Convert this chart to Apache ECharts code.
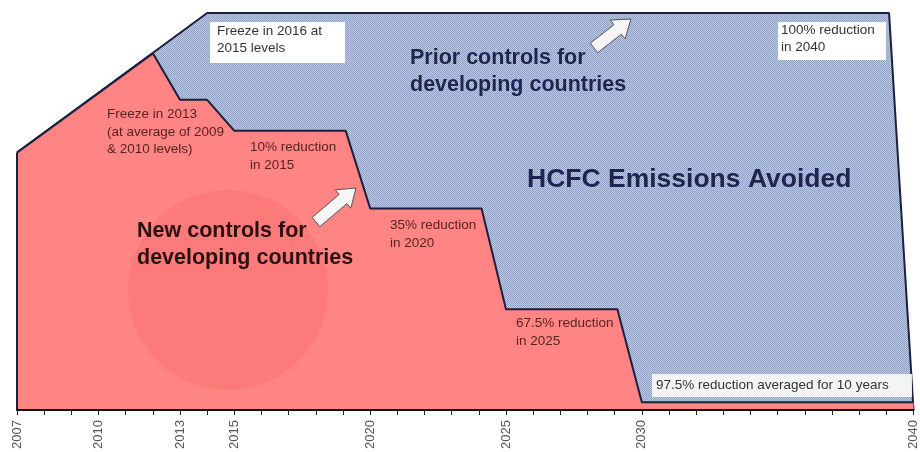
<!DOCTYPE html>
<html>
<head>
<meta charset="utf-8">
<script src="https://cdn.jsdelivr.net/npm/echarts@6/dist/echarts.min.js"></script>
<style>html,body{margin:0;padding:0;background:#fff}#c{width:920px;height:452px}</style>
</head>
<body>
<div id="c"></div>
<script>
// ---- data (emissions as % of the 2009/2010 baseline) ----
var labelYears = [2007, 2010, 2013, 2015, 2020, 2025, 2030, 2040];
var priorYears  = [2007, 2014, 2039.1, 2040];
var priorValues = [83, 128, 128, 0];
var newYears  = [2007, 2012, 2013, 2014, 2015, 2019.1, 2020, 2024.1, 2025, 2029.1, 2030, 2040];
var newValues = [83, 115, 100, 100, 90, 90, 65, 65, 32.5, 32.5, 2.5, 2.5];
var edgeYears = [2007, 2007];
var edgeValues = [0, 83];

function pairs(xs, ys) { return xs.map(function (x, i) { return [x, ys[i]]; }); }

// dotted blue texture
var pat = document.createElement('canvas');
pat.width = 2; pat.height = 2;
var pc = pat.getContext('2d');
pc.fillStyle = '#bfcbdf'; pc.fillRect(0, 0, 2, 2);
pc.fillStyle = '#8ca0c2'; pc.fillRect(0, 0, 1, 1); pc.fillRect(1, 1, 1, 1);

var OUT = '#1b2040';
var chart = echarts.init(document.getElementById('c'), null, {renderer: 'canvas'});

function arrow(tx, ty, hx, hy) {
  var dx = hx - tx, dy = hy - ty, L = Math.sqrt(dx * dx + dy * dy);
  var ux = dx / L, uy = dy / L, nx = -uy, ny = ux;
  var sw = 6, hw = 12, hl = 17;
  var pts = [[0, -sw], [L - hl, -sw], [L - hl, -hw], [L, 0], [L - hl, hw], [L - hl, sw], [0, sw]];
  return pts.map(function (p) { return [tx + ux * p[0] + nx * p[1], ty + uy * p[0] + ny * p[1]]; });
}

var FAM = '"Liberation Sans", Arial, sans-serif';
var smallFont = '13.5px ' + FAM;
var bigFont = 'bold 21.5px ' + FAM;

chart.setOption({
  animation: false,
  backgroundColor: '#ffffff',
  grid: {left: 17, right: 2, top: 13, bottom: 42},
  xAxis: {
    type: 'value', min: 2007, max: 2040, interval: 1, z: 5,
    axisLine: {lineStyle: {color: '#111', width: 2}},
    axisTick: {length: 5, lineStyle: {color: '#222', width: 1}},
    splitLine: {show: false},
    axisLabel: {
      rotate: 90, margin: 10, color: '#555', fontSize: 13,
      fontFamily: FAM,
      showMinLabel: true, showMaxLabel: true,
      formatter: function (v) { return labelYears.indexOf(Math.round(v)) >= 0 && Math.abs(v - Math.round(v)) < 1e-6 ? String(Math.round(v)) : ''; }
    }
  },
  yAxis: {type: 'value', min: 0, max: 128, show: false, splitLine: {show: false}},
  series: [
    {
      type: 'line', name: 'Prior controls', data: pairs(priorYears, priorValues),
      symbol: 'none', clip: false, z: 2,
      lineStyle: {color: OUT, width: 2},
      areaStyle: {color: {image: pat, repeat: 'repeat'}, opacity: 1}
    },
    {
      type: 'line', name: 'New controls', data: pairs(newYears, newValues),
      symbol: 'none', clip: false, z: 3,
      lineStyle: {color: OUT, width: 2},
      areaStyle: {color: '#ff8484', opacity: 1}
    },
    {
      type: 'line', name: 'edge', data: pairs(edgeYears, edgeValues),
      symbol: 'none', clip: false, z: 4,
      lineStyle: {color: OUT, width: 2}
    }
  ],
  graphic: [
    {type: 'circle', shape: {cx: 228, cy: 290, r: 100}, style: {fill: 'rgba(235,60,60,0.13)'}, z: 10, silent: true},
    {type: 'polygon', shape: {points: arrow(316, 222, 356, 188)}, style: {fill: '#f6f6f6', stroke: '#555', lineWidth: 1}, z: 11},
    {type: 'polygon', shape: {points: arrow(594, 48, 631, 19)}, style: {fill: '#f6f6f6', stroke: '#555', lineWidth: 1}, z: 11},
    {type: 'rect', shape: {x: 210, y: 22, width: 135, height: 41}, style: {fill: '#ffffff'}, z: 11},
    {type: 'rect', shape: {x: 778, y: 22, width: 108, height: 38}, style: {fill: '#ffffff'}, z: 11},
    {type: 'rect', shape: {x: 652, y: 374, width: 260, height: 23}, style: {fill: 'rgba(250,248,246,0.92)'}, z: 11},
    {type: 'text', x: 217, y: 22.5, z: 12, style: {text: 'Freeze in 2016 at\n2015 levels', font: smallFont, fill: '#333', lineHeight: 17}},
    {type: 'text', x: 781, y: 22, z: 12, style: {text: '100% reduction\nin 2040', font: smallFont, fill: '#333', lineHeight: 17}},
    {type: 'text', x: 656, y: 376.5, z: 12, style: {text: '97.5% reduction averaged for 10 years', font: smallFont, fill: '#333', lineHeight: 17}},
    {type: 'text', x: 107, y: 106, z: 12, style: {text: 'Freeze in 2013\n(at average of 2009\n& 2010 levels)', font: smallFont, fill: '#5a2222', lineHeight: 17.5}},
    {type: 'text', x: 250, y: 138, z: 12, style: {text: '10% reduction\nin 2015', font: smallFont, fill: '#5a2222', lineHeight: 18}},
    {type: 'text', x: 390, y: 216, z: 12, style: {text: '35% reduction\nin 2020', font: smallFont, fill: '#5a2222', lineHeight: 18}},
    {type: 'text', x: 516, y: 314, z: 12, style: {text: '67.5% reduction\nin 2025', font: smallFont, fill: '#5a2222', lineHeight: 18}},
    {type: 'text', x: 410, y: 44.5, z: 12, style: {text: 'Prior controls for\ndeveloping countries', font: bigFont, fill: '#1e2650', lineHeight: 27}},
    {type: 'text', x: 527, y: 165, z: 12, style: {text: 'HCFC Emissions Avoided', font: 'bold 26.5px ' + FAM, fill: '#1e2650', lineHeight: 30}},
    {type: 'text', x: 137, y: 217.5, z: 12, style: {text: 'New controls for\ndeveloping countries', font: bigFont, fill: '#2b1012', lineHeight: 27}}
  ]
});
</script>
</body>
</html>
